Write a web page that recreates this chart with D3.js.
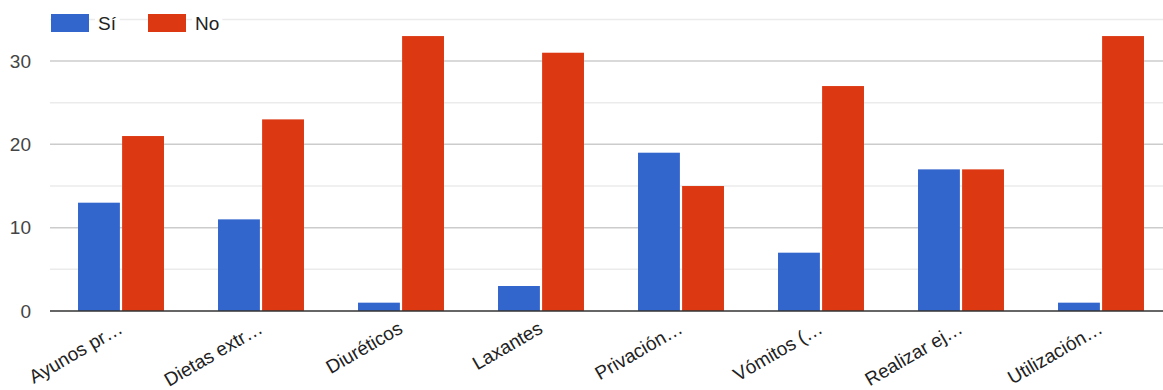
<!DOCTYPE html>
<html><head><meta charset="utf-8">
<script src="https://cdn.jsdelivr.net/npm/d3@7"></script>
<style>body{margin:0;background:#fff}svg{display:block;font-family:"Liberation Sans",Arial,sans-serif}</style>
</head><body><svg id="c" width="1163" height="390"></svg>
<script>
const categories = ["Ayunos pr…","Dietas extr…","Diuréticos","Laxantes","Privación…","Vómitos (…","Realizar ej…","Utilización…"];
const seriesNames = ["Sí","No"];
const si = [13,11,1,3,19,7,17,1];
const no = [21,23,33,31,15,27,17,33];
const majorTicks = [0,10,20,30];
const minorTicks = [5,15,25,35];
const colors = ["#3366cc","#dc3912"];

const svg = d3.select("#c");
const plotLeft = 51, plotRight = 1171, plotTop = 19.4, plotBottom = 311;
const y = d3.scaleLinear().domain([0,35]).range([plotBottom, plotTop]);
const x0 = d3.scaleBand().domain(categories).range([plotLeft,plotRight]).paddingInner(0.386).paddingOuter(0.193);
const x1 = d3.scaleBand().domain(seriesNames).range([0,x0.bandwidth()]).paddingInner(0.05);

// gridlines
svg.append("g").selectAll("line").data(minorTicks).join("line")
  .attr("x1",plotLeft-1).attr("x2",1163).attr("y1",d=>y(d)).attr("y2",d=>y(d))
  .attr("stroke","#ebebeb").attr("stroke-width",1.5);
svg.append("g").selectAll("line").data(majorTicks.filter(d=>d>0)).join("line")
  .attr("x1",plotLeft-1).attr("x2",1163).attr("y1",d=>y(d)).attr("y2",d=>y(d))
  .attr("stroke","#cccccc").attr("stroke-width",1.5);

// y labels
const yAxis = d3.axisLeft(y).tickValues(majorTicks).tickSize(0).tickPadding(0);
const ya = svg.append("g").attr("transform",`translate(31,0)`).call(yAxis);
ya.select(".domain").remove();
ya.selectAll("text").attr("font-size",19).attr("fill","#444").attr("font-family","Liberation Sans, Arial, sans-serif");

// bars
const data = categories.map((c,i)=>({c, vals:[si[i],no[i]]}));
const g = svg.append("g").selectAll("g").data(data).join("g")
  .attr("transform",d=>`translate(${x0(d.c)},0)`);
g.selectAll("rect").data(d=>d.vals.map((v,j)=>({k:seriesNames[j],v,j}))).join("rect")
  .attr("x",d=>x1(d.k)).attr("width",x1.bandwidth())
  .attr("y",d=>y(d.v)).attr("height",d=>y(0)-y(d.v))
  .attr("fill",d=>colors[d.j]);

// baseline
svg.append("line").attr("x1",plotLeft-1).attr("x2",1163).attr("y1",y(0)).attr("y2",y(0))
  .attr("stroke","#333").attr("stroke-width",1.5);

// x labels
const xAxis = d3.axisBottom(x0).tickSize(0).tickPadding(0);
const xa = svg.append("g").attr("transform",`translate(0,${y(0)})`).call(xAxis);
xa.select(".domain").remove();
xa.selectAll("text")
  .attr("font-size",19).attr("fill","#222").attr("font-family","Liberation Sans, Arial, sans-serif")
  .attr("text-anchor","end").attr("dy",null).attr("y",0)
  .attr("transform","translate(3,21) rotate(-30)");

// legend
const lg = svg.append("g");
const legX = [51,148];
seriesNames.forEach((s,i)=>{
  lg.append("rect").attr("x",legX[i]).attr("y",14).attr("width",38).attr("height",18).attr("fill",colors[i]);
  const t = lg.append("text").attr("x",legX[i]+47).attr("y",30).attr("font-size",19).attr("fill","#222").text(s);
  const bb = t.node().getBBox();
  lg.insert("rect","text").attr("x",bb.x-3).attr("y",bb.y).attr("width",bb.width+6).attr("height",bb.height).attr("fill","#fff");
});
</script></body></html>
